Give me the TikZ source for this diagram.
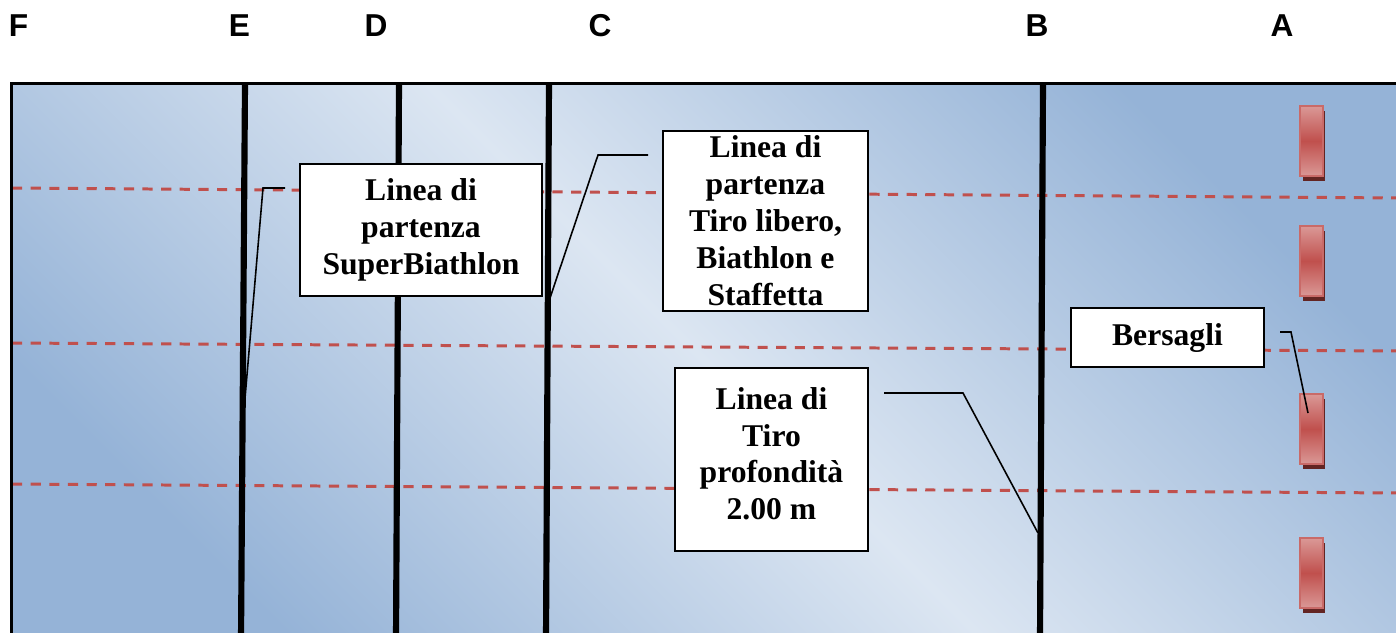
\documentclass[tikz,border=0pt]{standalone}
\usepackage{fontspec}
\setmainfont{Liberation Serif}
\newfontfamily\poolsans{Liberation Sans}

\definecolor{poolDark}{HTML}{95B3D7}
\definecolor{poolLight}{HTML}{DCE6F2}
\definecolor{laneRed}{HTML}{C0504D}
\definecolor{targetPink}{HTML}{DA9896}
\definecolor{targetShadow}{HTML}{632523}

\tikzset{
	labelbox/.style={draw=black, line width=0.6pt, fill=white, align=center, inner sep=0pt,
		font=\fontsize{9}{10.5}\selectfont\bfseries},
	poolletter/.style={font=\poolsans\fontsize{9}{10}\selectfont\bfseries, inner sep=0pt, anchor=base},
	leader/.style={line width=0.45pt},
	laneline/.style={laneRed, line width=0.85pt, dash pattern=on 2.9pt off 2.4pt},
	startline/.style={line width=1.75pt},
	target/.style={top color=targetPink, bottom color=targetPink, middle color=laneRed, draw=laneRed!85!white, line width=0.7pt},
}

\begin{document}
\begin{tikzpicture}[x=0.01cm, y=-0.01cm]
	\useasboundingbox (0,0) rectangle (1396,632);
	\clip (0,0) rectangle (1396,632);
	
	% pool
	\shade[left color=poolDark, right color=poolDark, middle color=poolLight, shading angle=-45] (11,83) rectangle (1410,650);
	
	% lane ropes
	\draw[laneline] (12,188) -- (1400,198);
	\draw[laneline] (12,343) -- (1400,351);
	\draw[laneline] (12,484) -- (1400,493);
	
	% lines F..A
	\draw[startline] (245,84) -- (241,640);		% E
	\draw[startline] (399,84) -- (396,640);		% D
	\draw[startline] (549,84) -- (546,640);		% C
	\draw[startline] (1043,84) -- (1040,640);	% B
	
	\draw[line width=0.9pt] (11.5,83.5) rectangle (1410,650);	% pool border
	
	% targets
	\fill[targetShadow] (1303,111) rectangle (1325,181);
	\shade[target] (1300,106) rectangle (1323,176);
	\fill[targetShadow] (1303,231) rectangle (1325,301);
	\shade[target] (1300,226) rectangle (1323,296);
	\fill[targetShadow] (1303,399) rectangle (1325,469);
	\shade[target] (1300,394) rectangle (1323,464);
	\fill[targetShadow] (1303,543) rectangle (1325,613);
	\shade[target] (1300,538) rectangle (1323,608);
	
	% letters
	\node[poolletter] (lF) at (18.5,36) {F};
	\node[poolletter] (lE) at (239.5,36) {E};
	\node[poolletter] (lD) at (376,36) {D};
	\node[poolletter] (lC) at (600,36) {C};
	\node[poolletter] (lB) at (1037,36) {B};
	\node[poolletter] (lA) at (1282,36) {A};
	
	% labels
	\node[labelbox, minimum width=2.42cm, minimum height=1.32cm] (superb) at (421,230) {Linea di\\partenza\\SuperBiathlon};
	\node[labelbox, minimum width=2.05cm, minimum height=1.80cm] (freestart) at (765.5,221) {Linea di\\partenza\\Tiro libero,\\Biathlon e\\Staffetta};
	\node[labelbox, minimum width=1.93cm, minimum height=1.83cm, text depth=3.4pt] (shootline) at (771.5,459.5) {Linea di\\Tiro\\profondità\\2.00 m};
	\node[labelbox, minimum width=1.93cm, minimum height=0.59cm] (targets) at (1167.5,337.5) {Bersagli};
	
	% leaders
	\coordinate (superbTail) at (285,188);
	\coordinate (superbKnee) at (263,188);
	\coordinate (superbTip) at (244,410);
	\coordinate (freeTail) at (648,155);
	\coordinate (freeKnee) at (598,155);
	\coordinate (freeTip) at (550,298);
	\coordinate (shootTail) at (884,393);
	\coordinate (shootKnee) at (963,393);
	\coordinate (shootTip) at (1038,533);
	\coordinate (targetTail) at (1280,332);
	\coordinate (targetKnee) at (1291,332);
	\coordinate (targetTip) at (1308,413);
	\draw[leader] (superbTail) -- (superbKnee) -- (superbTip);
	\draw[leader] (freeTail) -- (freeKnee) -- (freeTip);
	\draw[leader] (shootTail) -- (shootKnee) -- (shootTip);
	\draw[leader] (targetTail) -- (targetKnee) -- (targetTip);
\end{tikzpicture}
\end{document}
